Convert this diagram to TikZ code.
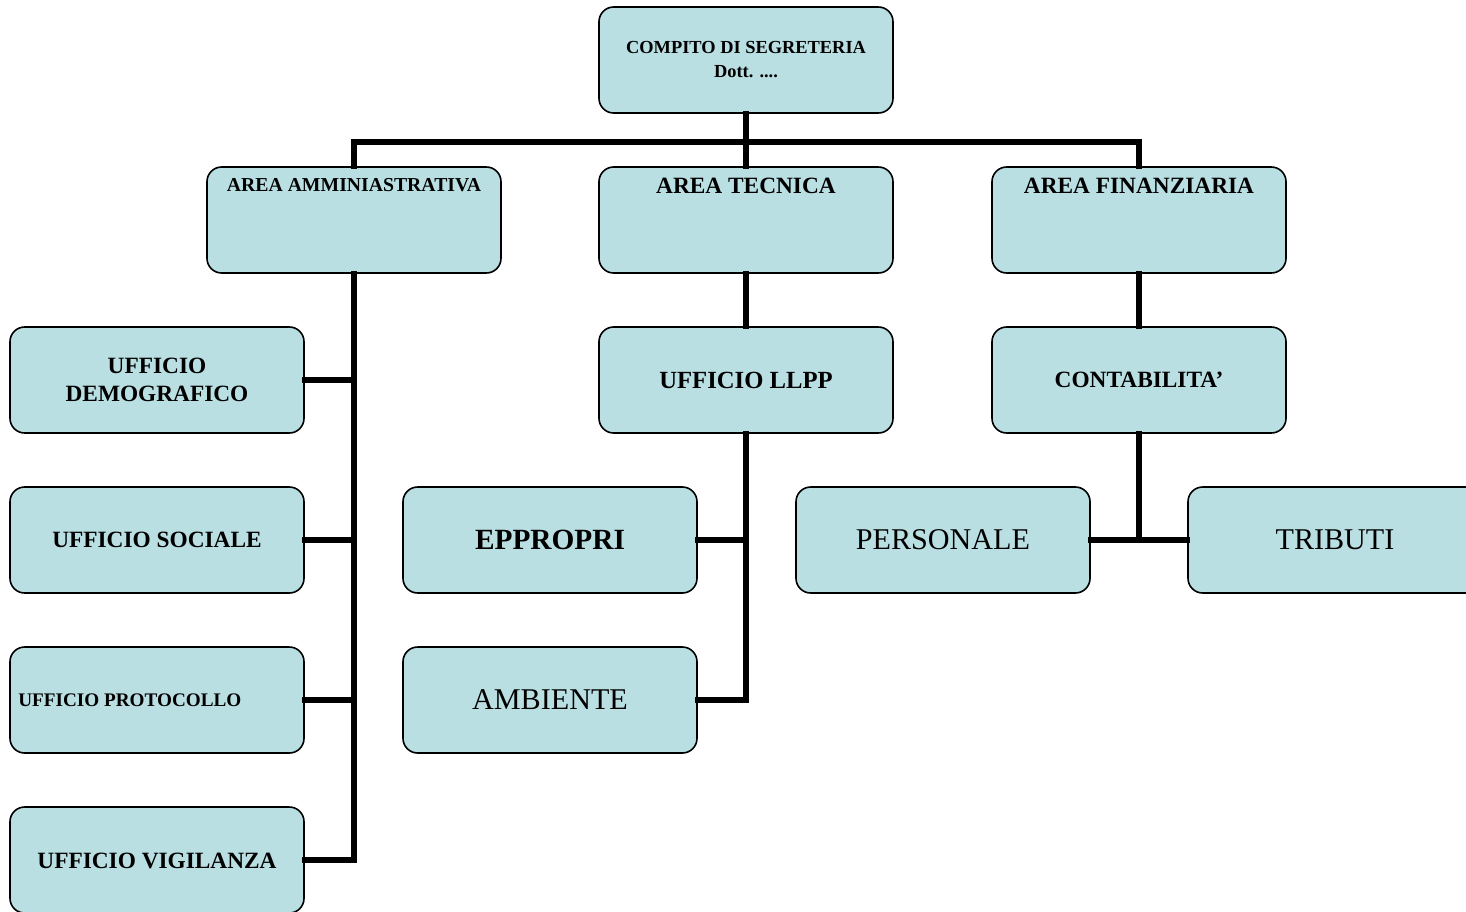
\documentclass[tikz,border=0pt]{standalone}
\usepackage{fontspec}
\setmainfont{Liberation Serif}
\definecolor{boxfill}{HTML}{B9DFE3}
\tikzset{
  x=0.75pt, y=-0.75pt,
  orgbox/.style={draw=black, line width=1.2pt, fill=boxfill, rounded corners=11pt,
    minimum width=220.5pt, minimum height=79.5pt, inner sep=0pt},
  wire/.style={line width=3.8pt, line cap=rect},
  txt/.style={align=center, inner sep=0pt},
  small/.style={txt, font=\fontsize{13.8}{18}\selectfont\bfseries},
  smaller/.style={txt, font=\fontsize{14.4}{17}\selectfont\bfseries},
  mid/.style={txt, font=\fontsize{17.5}{21}\selectfont\bfseries},
  big/.style={txt, font=\fontsize{22}{24}\selectfont\bfseries},
  plain/.style={txt, font=\fontsize{22.6}{25}\selectfont},
}
\begin{document}
\begin{tikzpicture}
\useasboundingbox (0,0) rectangle (1466,911);
\coordinate (bar) at (746,142);
% boxes
\node[orgbox] (top) at (746,60) {};
\node[small] (toptxt) at (746,60) {COMPITO DI SEGRETERIA\\Dott. ....};
\node[orgbox] (aa) at (354,220) {};
\node[txt, font=\fontsize{14.8}{17}\selectfont\bfseries] (aatxt) at (354,185) {AREA AMMINIASTRATIVA};
\node[orgbox] (at) at (746,220) {};
\node[mid] (attxt) at (746,186) {AREA TECNICA};
\node[orgbox] (af) at (1139,220) {};
\node[mid] (aftxt) at (1139,186) {AREA FINANZIARIA};

\node[orgbox] (demo) at (157,380) {};
\node[mid] (demotxt) at (157,380) {UFFICIO\\DEMOGRAFICO};
\node[orgbox] (soc) at (157,540) {};
\node[mid] (soctxt) at (157,540) {UFFICIO SOCIALE};
\node[orgbox] (prot) at (157,700) {};
\node[smaller, anchor=west] (prottxt) at (18,700) {UFFICIO PROTOCOLLO};
\node[orgbox] (vig) at (157,860) {};
\node[mid] (vigtxt) at (157,861) {UFFICIO VIGILANZA};

\node[orgbox] (llpp) at (746,380) {};
\node[txt, font=\fontsize{18.5}{20}\selectfont\bfseries] (llpptxt) at (746,380) {UFFICIO LLPP};
\node[orgbox] (epp) at (550,540) {};
\node[big] (epptxt) at (550,540) {EPPROPRI};
\node[orgbox] (amb) at (550,700) {};
\node[plain] (ambtxt) at (550,700) {AMBIENTE};

\node[orgbox] (cont) at (1139,380) {};
\node[mid] (conttxt) at (1139,380) {CONTABILITA’};
\node[orgbox] (pers) at (943,540) {};
\node[plain] (perstxt) at (943,540) {PERSONALE};
\node[orgbox] (trib) at (1335,540) {};
\node[plain] (tribtxt) at (1335,540) {TRIBUTI};

% connectors
\draw[wire] (top.south) -- (at.north);
\draw[wire] (aa.north) |- (bar) -| (af.north);
\draw[wire] (at.south) -- (llpp.north);
\draw[wire] (af.south) -- (cont.north);
\draw[wire] (aa.south) |- (vig.east);
\draw[wire] (demo.east) -| (aa.south);
\draw[wire] (soc.east) -| (aa.south);
\draw[wire] (prot.east) -| (aa.south);
\draw[wire] (llpp.south) |- (amb.east);
\draw[wire] (epp.east) -| (llpp.south);
\draw[wire] (cont.south) |- (pers.east);
\draw[wire] (cont.south) |- (trib.west);
\end{tikzpicture}
\end{document}
